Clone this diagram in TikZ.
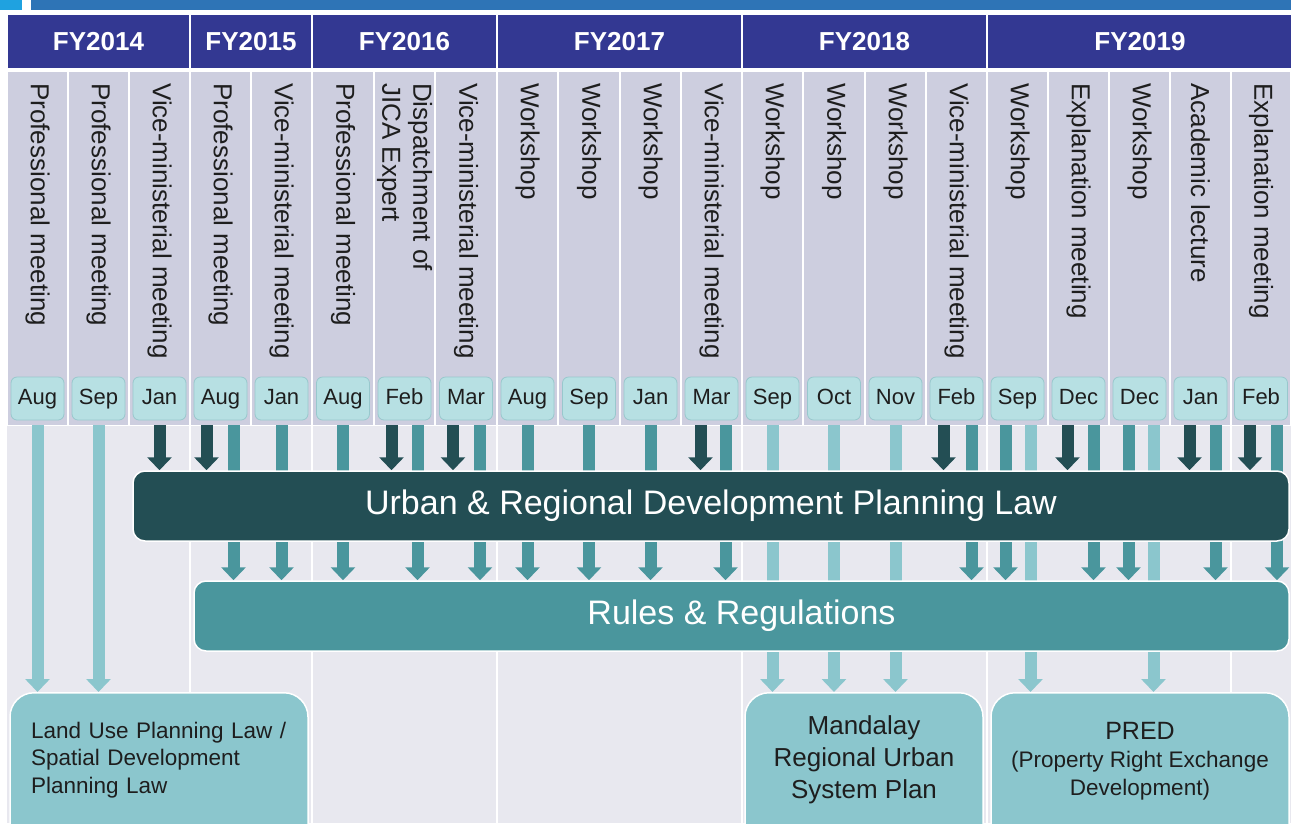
\documentclass[tikz,border=0pt]{standalone}
\usepackage{fontspec}
\setmainfont{Liberation Sans}
\usetikzlibrary{arrows.meta}
\definecolor{topsq}{HTML}{1FA2E0}
\definecolor{topbar}{HTML}{2E74B6}
\definecolor{fyblue}{HTML}{333892}
\definecolor{cellgrey}{HTML}{CDCEDF}
\definecolor{lowgrey}{HTML}{E8E8EF}
\definecolor{monthfill}{HTML}{B7E0E3}
\definecolor{monthdraw}{HTML}{98C8CD}
\definecolor{darkteal}{HTML}{234E54}
\definecolor{midteal}{HTML}{4A969D}
\definecolor{lightteal}{HTML}{8BC6CD}
\definecolor{txt}{HTML}{1E1E1E}
\pgfdeclarelayer{back}
\pgfdeclarelayer{mid}
\pgfsetlayers{back,mid,main}
\begin{document}
\begin{tikzpicture}[x=1pt,y=-1pt,
  fyhead/.style={fill=fyblue, text=white, font=\bfseries\fontsize{26}{30}\selectfont, minimum height=53pt, inner sep=0pt, outer sep=0pt},
  cellbox/.style={fill=cellgrey, minimum height=353pt, inner sep=0pt, outer sep=0pt},
  vtext/.style={rotate=-90, anchor=west, inner sep=0pt, text=txt, align=left, font=\fontsize{26}{31}\selectfont},
  mbox/.style={fill=monthfill, draw=monthdraw, line width=0.8pt, rounded corners=6pt, minimum width=53pt, minimum height=43pt, inner sep=0pt, text height=16pt, text depth=4.5pt, text=txt, font=\fontsize{22}{26}\selectfont},
  widebox/.style={draw=white, line width=1.5pt, rounded corners=12pt, minimum height=70pt, inner sep=0pt, text=white, font=\fontsize{34}{40}\selectfont},
  lowbox/.style={fill=lightteal, draw=white, line width=1.5pt, rounded corners=24pt, minimum height=170pt, inner sep=0pt, anchor=north},
  lowtext/.style={inner sep=0pt, text=txt},
  arr/.style={line width=12pt, -{Triangle[width=24pt,length=13pt]}},
  darkarr/.style={arr, darkteal},
  midarr/.style={arr, midteal},
  lightarr/.style={arr, lightteal}
]
\useasboundingbox (0,0) rectangle (1291,823);
\clip (0,0) rectangle (1291,823);
\begin{pgfonlayer}{back}
  \fill[white] (0,0) rectangle (1291,823);
  \fill[lowgrey] (7,426) rectangle (1291,823);
  \foreach \x in {190,312,497,742,987,1231}
    \draw[white, line width=2pt] (\x,426) -- (\x,823);
\end{pgfonlayer}
\fill[topsq] (0,0) rectangle (22,10);
\fill[topbar] (31,0) rectangle (1291,10);
\foreach \n/\l/\r/\t in {14/7/190/FY2014, 15/190/312/FY2015, 16/312/497/FY2016, 17/497/742/FY2017, 18/742/987/FY2018, 19/987/1293/FY2019}{
  \node[fyhead, minimum width={\r-\l-2}] (fy\n) at ({(\l+\r)/2},41.5) {\t};
}
\foreach \i/\l/\r/\t/\m in {
1/7/68/Professional meeting/Aug,
2/68/129/Professional meeting/Sep,
3/129/190/Vice-ministerial meeting/Jan,
4/190/251/Professional meeting/Aug,
5/251/312/Vice-ministerial meeting/Jan,
6/312/374/Professional meeting/Aug,
7/374/435/{Dispatchment of\\JICA Expert}/Feb,
8/435/497/Vice-ministerial meeting/Mar,
9/497/558/Workshop/Aug,
10/558/620/Workshop/Sep,
11/620/681/Workshop/Jan,
12/681/742/Vice-ministerial meeting/Mar,
13/742/803/Workshop/Sep,
14/803/865/Workshop/Oct,
15/865/926/Workshop/Nov,
16/926/987/Vice-ministerial meeting/Feb,
17/987/1048/Workshop/Sep,
18/1048/1109/Explanation meeting/Dec,
19/1109/1170/Workshop/Dec,
20/1170/1231/Academic lecture/Jan,
21/1231/1291/Explanation meeting/Feb}{
  \node[cellbox, minimum width={\r-\l-2}] (c\i) at ({(\l+\r)/2},248.5) {};
  \node[vtext] (t\i) at ({(\l+\r)/2},83) {\t};
  \node[mbox] (m\i) at ({(\l+\r)/2},398.5) {\m};
}
\node[widebox, fill=darkteal, minimum width=1156pt] (law) at (711,506) {Urban \& Regional Development Planning Law};
\node[widebox, fill=midteal, minimum width=1095pt] (rules) at (741.5,616) {Rules \& Regulations};
\node[lowbox, minimum width=298pt] (land) at (159,692) {};
\node[lowtext, text width=256pt, align=left, font=\fontsize{22.5}{27.5}\selectfont] (landtext) at (159,760) {Land Use Planning Law /\\Spatial Development\\Planning Law};
\node[lowbox, minimum width=238pt] (mandalay) at (864,692) {};
\node[lowtext, align=center, font=\fontsize{26}{32}\selectfont] (mandalaytext) at (864,760) {Mandalay\\Regional Urban\\System Plan};
\node[lowbox, minimum width=298pt] (pred) at (1140,692) {};
\node[lowtext, align=center, font=\fontsize{22.5}{28}\selectfont] (predtext) at (1140,761) {{\fontsize{25}{28}\selectfont PRED}\\(Property Right Exchange\\Development)};
\begin{pgfonlayer}{mid}
  \foreach \i/\s in {1/0pt,2/0pt}
    \draw[lightarr] ([xshift=\s]c\i.south) -- ([xshift=\s]c\i.south |- land.north);
  \foreach \i/\s in {13/0pt,14/0pt,15/0pt}
    \draw[lightarr] ([xshift=\s]c\i.south) -- ([xshift=\s]c\i.south |- mandalay.north);
  \foreach \i/\s in {17/13pt,19/14pt}
    \draw[lightarr] ([xshift=\s]c\i.south) -- ([xshift=\s]c\i.south |- pred.north);
  \foreach \i/\s in {3/0pt,4/-14pt,7/-13pt,8/-13pt,12/-11pt,16/-13pt,18/-11pt,20/-11pt,21/-11pt}
    \draw[darkarr] ([xshift=\s]c\i.south) -- ([xshift=\s]c\i.south |- law.north);
  \foreach \i/\s in {4/13pt,5/0pt,6/0pt,7/13pt,8/14pt,9/0pt,10/0pt,11/0pt,12/14pt,16/15pt,17/-12pt,18/15pt,19/-11pt,20/15pt,21/16pt}
    \draw[midarr] ([xshift=\s]c\i.south) -- ([xshift=\s]c\i.south |- rules.north);
\end{pgfonlayer}
\end{tikzpicture}
\end{document}
